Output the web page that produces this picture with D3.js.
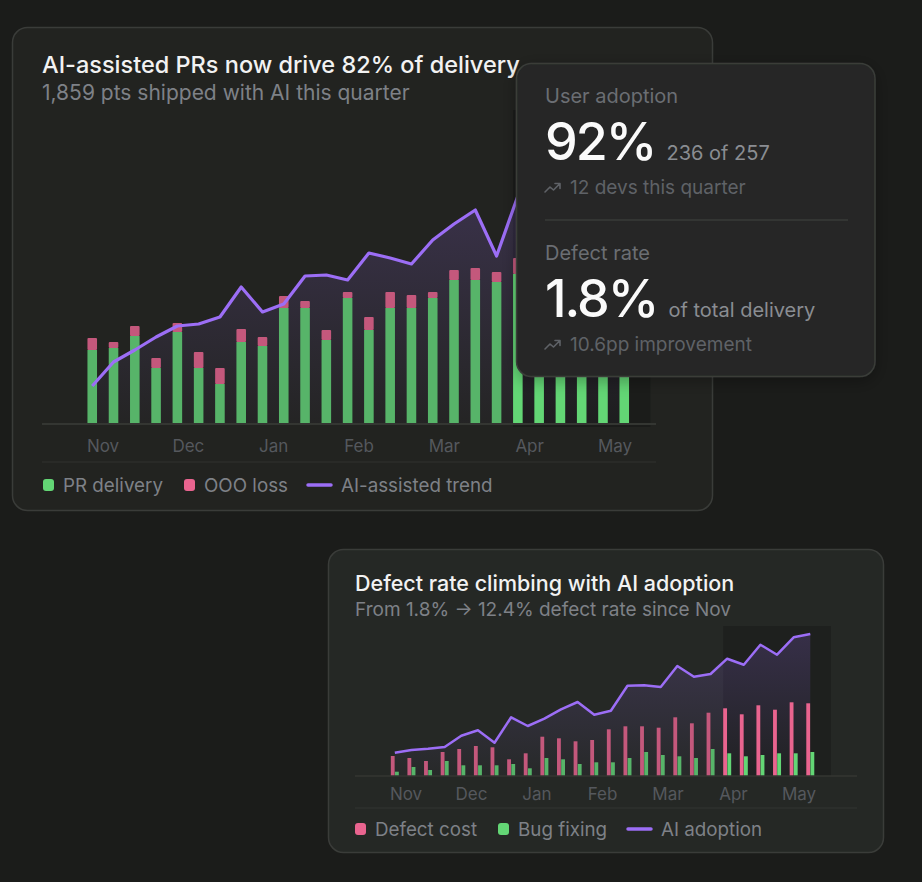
<!DOCTYPE html>
<html>
<head>
  <meta charset="utf-8">
  <title>AI delivery and defect rate</title>
  <script src="https://d3js.org/d3.v7.min.js"></script>
  <style>
    html, body {
      margin: 0;
      padding: 0;
      background: #1b1c1a;
    }
    svg text {
      font-family: Inter, "Noto Sans", sans-serif;
    }
    .axis-label {
      fill: #55585d;
      font-size: 17px;
    }
    .legend-label {
      fill: #7e8187;
      font-size: 18.8px;
    }
  </style>
</head>
<body>
  <svg id="chart" width="922" height="882"></svg>

  <script>
    // ---- data ----
    const months = ["Nov", "Dec", "Jan", "Feb", "Mar", "Apr", "May"];

    // top chart: weekly delivery points
    const prDelivery = [37, 38, 44, 28, 46, 28, 20, 41, 39, 58, 58, 42, 63,
                        47, 58, 58, 63, 72, 72, 71, 75, 78, 80, 76, 82, 85];
    const oooLoss    = [6, 3, 5, 5, 4.5, 8, 8, 6.5, 4.5, 6, 3.5, 5, 3,
                        6.5, 8, 6.5, 3, 5, 6, 5, 8, 5, 6, 5, 6, 5];
    const aiTrend    = [19, 31, 37, 43.5, 49, 50, 53.5, 68.5, 56, 60, 74, 74.5, 72,
                        85.5, 83, 80, 92, 100, 107, 84, 114, 118, 124, 128, 133, 138];

    // bottom chart: weekly defect cost, bug fixing, AI adoption
    const defectCost = [20, 18, 15, 24, 27, 30, 28.7, 16.7, 22.7, 39.3, 37.7, 34.7, 36,
                        46.7, 49.7, 49.7, 48.3, 58.7, 52.7, 63.3, 67.7, 61.7, 70.7, 66.3, 73.7, 72.7];
    const bugFixing  = [4.3, 9, 6, 15, 10.7, 10.7, 10.7, 12, 7.7, 18, 16.7, 12, 13.7,
                        13.7, 18, 24, 21, 19.7, 18, 27, 22.7, 19.7, 21, 22.7, 22.7, 24];
    const aiAdoption = [23.3, 26, 27.3, 29, 40.3, 45.7, 33.3, 58.7, 50, 57.3, 66.7, 74, 61.3,
                        65.3, 90.3, 90.7, 89, 110, 99.3, 102, 117.3, 111.3, 131.3, 121.3, 138.7, 142];

    // weeks from this index on are the current (highlighted) period
    const currentFrom = 20;

    // colours
    const C = {
      green: "#57b469", greenHi: "#63d675",
      pink: "#c4587c", pinkHi: "#e9648f",
      purple: "#9c6ef6",
      grid: "#343632",
      title: "#f2f2f2", sub: "#7e8187", dim: "#5f6267"
    };

    const svg = d3.select("#chart");
    const defs = svg.append("defs");

    function areaGradient(id, y1, y2) {
      const g = defs.append("linearGradient")
        .attr("id", id)
        .attr("gradientUnits", "userSpaceOnUse")
        .attr("x1", 0).attr("x2", 0).attr("y1", y1).attr("y2", y2);
      g.append("stop").attr("offset", 0).attr("stop-color", C.purple).attr("stop-opacity", 0.2);
      g.append("stop").attr("offset", 1).attr("stop-color", C.purple).attr("stop-opacity", 0.02);
    }

    const shadow = defs.append("filter").attr("id", "shadow")
      .attr("x", "-20%").attr("y", "-20%").attr("width", "140%").attr("height", "140%");
    shadow.append("feDropShadow")
      .attr("dx", 0).attr("dy", 4).attr("stdDeviation", 8)
      .attr("flood-color", "#000").attr("flood-opacity", 0.3);

    function card(x, y, w, h, fill, extra) {
      const r = svg.append("rect")
        .attr("x", x).attr("y", y).attr("width", w).attr("height", h)
        .attr("rx", 15)
        .attr("fill", fill)
        .attr("stroke", "#3a3c39")
        .attr("stroke-width", 1.5);
      if (extra) r.attr("filter", extra);
      return r;
    }

    function legend(g, items, y) {
      items.forEach(it => {
        if (it.type === "line") {
          g.append("line")
            .attr("x1", it.x).attr("x2", it.x + 23)
            .attr("y1", y).attr("y2", y)
            .attr("stroke", it.color).attr("stroke-width", 3.5)
            .attr("stroke-linecap", "round");
          g.append("text").attr("class", "legend-label")
            .attr("x", it.x + 33).attr("y", y + 6.5).text(it.label);
        } else {
          g.append("rect")
            .attr("x", it.x).attr("y", y - 6).attr("width", 11).attr("height", 12)
            .attr("rx", 3).attr("fill", it.color);
          g.append("text").attr("class", "legend-label")
            .attr("x", it.x + 20).attr("y", y + 6.5).text(it.label);
        }
      });
    }

    // ================= top card: delivery =================
    card(12.5, 27.5, 700, 483, "#222320");

    const topG = svg.append("g");
    topG.append("text")
      .attr("x", 42).attr("y", 73)
      .attr("fill", C.title).style("font-size", "23.5px").style("font-weight", 500)
      .text("AI-assisted PRs now drive 82% of delivery");
    topG.append("text")
      .attr("x", 42).attr("y", 100)
      .attr("fill", C.sub).style("font-size", "21px")
      .text("1,859 pts shipped with AI this quarter");

    const weeksTop = prDelivery.map((d, i) => i);
    const xTop = d3.scaleBand().domain(weeksTop)
      .range([81.6, 634.9]).paddingInner(0.55).paddingOuter(0.275);
    const yTop = d3.scaleLinear().domain([0, 150]).range([424, 124]);
    const baseTop = yTop(0);

    // current period backdrop
    topG.append("rect")
      .attr("x", xTop(currentFrom))
      .attr("y", 110)
      .attr("width", xTop(weeksTop.length - 1) + xTop.step() + xTop.bandwidth() - xTop(currentFrom))
      .attr("height", baseTop + 3 - 110)
      .attr("fill", "#1b1c1a");

    // trend area + line
    areaGradient("gradTop", 190, baseTop);
    const cxTop = i => xTop(i) + xTop.bandwidth() / 2;
    topG.append("path")
      .datum(aiTrend)
      .attr("fill", "url(#gradTop)")
      .attr("d", d3.area().x((d, i) => cxTop(i)).y0(baseTop).y1(d => yTop(d)));

    // stacked bars
    const barsTop = topG.append("g");
    barsTop.selectAll(".pr")
      .data(prDelivery)
      .enter().append("rect")
      .attr("x", (d, i) => xTop(i))
      .attr("y", d => yTop(d))
      .attr("width", xTop.bandwidth())
      .attr("height", d => baseTop - yTop(d))
      .attr("fill", (d, i) => i >= currentFrom ? C.greenHi : C.green);
    barsTop.selectAll(".ooo")
      .data(oooLoss)
      .enter().append("rect")
      .attr("x", (d, i) => xTop(i))
      .attr("y", (d, i) => yTop(prDelivery[i] + d))
      .attr("width", xTop.bandwidth())
      .attr("height", (d, i) => yTop(prDelivery[i]) - yTop(prDelivery[i] + d))
      .attr("rx", 1)
      .attr("fill", C.pink);

    topG.append("path")
      .datum(aiTrend)
      .attr("fill", "none")
      .attr("stroke", C.purple)
      .attr("stroke-width", 3.2)
      .attr("stroke-linejoin", "round")
      .attr("d", d3.line().x((d, i) => cxTop(i)).y(d => yTop(d)));

    // axis
    topG.append("line")
      .attr("x1", 42).attr("x2", 656).attr("y1", baseTop).attr("y2", baseTop)
      .attr("stroke", C.grid).attr("stroke-width", 2);
    const mTop = d3.scalePoint().domain(months).range([103, 615]);
    topG.selectAll(".mtop")
      .data(months)
      .enter().append("text")
      .attr("class", "axis-label")
      .attr("x", d => mTop(d)).attr("y", 452)
      .attr("text-anchor", "middle")
      .text(d => d);

    topG.append("line")
      .attr("x1", 42).attr("x2", 656).attr("y1", 462).attr("y2", 462)
      .attr("stroke", "#30322f").attr("stroke-width", 1);

    legend(topG, [
      { x: 43, color: C.greenHi, label: "PR delivery" },
      { x: 184, color: C.pinkHi, label: "OOO loss" },
      { x: 308, color: C.purple, label: "AI-assisted trend", type: "line" }
    ], 485);

    // ================= bottom card: defects =================
    card(328.5, 549.5, 555, 303, "#252825");

    const botG = svg.append("g");
    botG.append("text")
      .attr("x", 355).attr("y", 591)
      .attr("fill", C.title).style("font-size", "21.5px").style("font-weight", 500)
      .text("Defect rate climbing with AI adoption");
    botG.append("text")
      .attr("x", 355).attr("y", 616)
      .attr("fill", C.sub).style("font-size", "19px")
      .text("From 1.8% \u2192 12.4% defect rate since Nov");

    const weeksBot = defectCost.map((d, i) => i);
    const xBot = d3.scaleBand().domain(weeksBot)
      .range([386.5, 818.6]).paddingInner(0.519).paddingOuter(0.26);
    const xSub = d3.scaleBand().domain(["defect", "bug"])
      .range([0, xBot.bandwidth()]).paddingInner(0.08);
    const yBot = d3.scaleLinear().domain([0, 150]).range([776, 626]);
    const baseBot = yBot(0);

    botG.append("rect")
      .attr("x", xBot(currentFrom))
      .attr("y", 626)
      .attr("width", xBot(weeksBot.length - 1) + xBot.step() + xBot.bandwidth() - xBot(currentFrom))
      .attr("height", baseBot - 626)
      .attr("fill", "#1e201e");

    areaGradient("gradBot", 630, baseBot);
    const cxBot = i => xBot(i) + xBot.bandwidth() / 2;
    botG.append("path")
      .datum(aiAdoption)
      .attr("fill", "url(#gradBot)")
      .attr("d", d3.area().x((d, i) => cxBot(i)).y0(baseBot).y1(d => yBot(d)));

    botG.selectAll(".defect")
      .data(defectCost)
      .enter().append("rect")
      .attr("x", (d, i) => xBot(i) + xSub("defect"))
      .attr("y", d => yBot(d))
      .attr("width", xSub.bandwidth())
      .attr("height", d => baseBot - yBot(d))
      .attr("fill", (d, i) => i >= currentFrom ? C.pinkHi : C.pink);
    botG.selectAll(".bug")
      .data(bugFixing)
      .enter().append("rect")
      .attr("x", (d, i) => xBot(i) + xSub("bug"))
      .attr("y", d => yBot(d))
      .attr("width", xSub.bandwidth())
      .attr("height", d => baseBot - yBot(d))
      .attr("fill", (d, i) => i >= currentFrom ? C.greenHi : C.green);

    botG.append("path")
      .datum(aiAdoption)
      .attr("fill", "none")
      .attr("stroke", C.purple)
      .attr("stroke-width", 2.5)
      .attr("stroke-linejoin", "round")
      .attr("d", d3.line().x((d, i) => cxBot(i)).y(d => yBot(d)));

    botG.append("line")
      .attr("x1", 355).attr("x2", 857).attr("y1", baseBot).attr("y2", baseBot)
      .attr("stroke", C.grid).attr("stroke-width", 1.5);
    const mBot = d3.scalePoint().domain(months).range([406, 799]);
    botG.selectAll(".mbot")
      .data(months)
      .enter().append("text")
      .attr("class", "axis-label")
      .attr("x", d => mBot(d)).attr("y", 800)
      .attr("text-anchor", "middle")
      .text(d => d);

    botG.append("line")
      .attr("x1", 355).attr("x2", 857).attr("y1", 808).attr("y2", 808)
      .attr("stroke", "#333532").attr("stroke-width", 1);

    legend(botG, [
      { x: 355, color: C.pinkHi, label: "Defect cost" },
      { x: 498, color: C.greenHi, label: "Bug fixing" },
      { x: 628, color: C.purple, label: "AI adoption", type: "line" }
    ], 829);

    // ================= KPI overlay card =================
    card(516.5, 63.5, 358.5, 313, "#252826", "url(#shadow)");
    const kpi = svg.append("g");

    function trendIcon(x, y) {
      kpi.append("path")
        .attr("d", `M${x},${y + 10} L${x + 5},${y + 5} L${x + 8.5},${y + 8} L${x + 15},${y + 1.5} M${x + 10},${y + 1.5} L${x + 15},${y + 1.5} L${x + 15},${y + 6.5}`)
        .attr("fill", "none")
        .attr("stroke", C.dim)
        .attr("stroke-width", 1.6)
        .attr("stroke-linecap", "round")
        .attr("stroke-linejoin", "round");
    }

    const kpiRows = [
      { label: "User adoption", value: "92%", note: "236 of 257", trend: "12 devs this quarter", y: 0 },
      { label: "Defect rate", value: "1.8%", note: "of total delivery", trend: "10.6pp improvement", y: 157 }
    ];
    kpiRows.forEach(r => {
      kpi.append("text").attr("x", 545).attr("y", 103 + r.y)
        .attr("fill", "#6b6e73").style("font-size", "20px").text(r.label);
      const big = kpi.append("text").attr("x", 545).attr("y", 160 + r.y)
        .attr("fill", "#fafafa").style("font-size", "52px").style("font-weight", 500)
        .style("letter-spacing", "-2px")
        .text(r.value);
      const bw = big.node().getComputedTextLength();
      kpi.append("text").attr("x", 545 + bw + 11).attr("y", 160 + r.y)
        .attr("fill", "#8a8d92").style("font-size", "20px").text(r.note);
      trendIcon(545, 182 + r.y);
      kpi.append("text").attr("x", 570).attr("y", 194 + r.y)
        .attr("fill", C.dim).style("font-size", "19px").text(r.trend);
    });
    kpi.append("line")
      .attr("x1", 545).attr("x2", 848).attr("y1", 220).attr("y2", 220)
      .attr("stroke", "#383b38").attr("stroke-width", 1.5);
  </script>
</body>
</html>
